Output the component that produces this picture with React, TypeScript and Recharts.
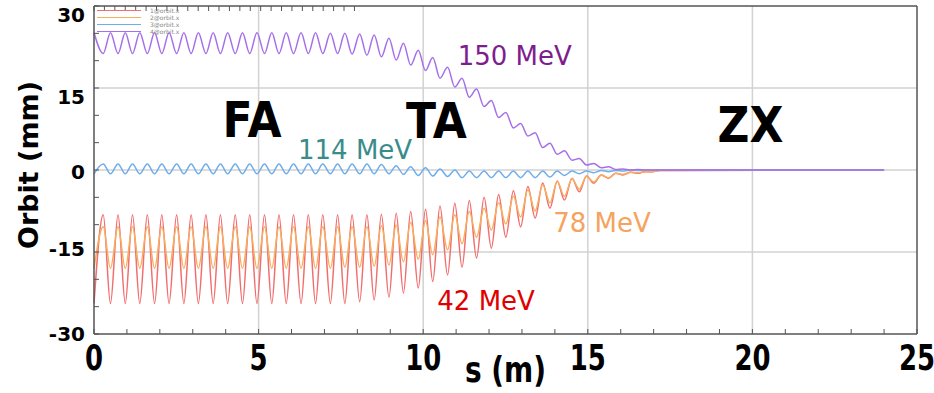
import React from 'react';
import { LineChart, Line, XAxis, YAxis, ReferenceLine, ReferenceDot, Legend } from 'recharts';

// half-period sample positions along s (m): extrema of the orbit oscillations
const sPos = [
  0, 0.28, 0.5, 0.73, 0.95, 1.17, 1.39, 1.62, 1.84, 2.06,
  2.28, 2.51, 2.73, 2.95, 3.17, 3.4, 3.62, 3.84, 4.06, 4.29,
  4.51, 4.73, 4.95, 5.18, 5.4, 5.62, 5.84, 6.06, 6.29, 6.51,
  6.73, 6.95, 7.18, 7.4, 7.62, 7.84, 8.07, 8.29, 8.51, 8.73,
  8.96, 9.18, 9.4, 9.62, 9.85, 10.07, 10.29, 10.51, 10.74, 10.96,
  11.18, 11.4, 11.62, 11.85, 12.07, 12.29, 12.51, 12.74, 12.96, 13.18,
  13.4, 13.63, 13.85, 14.07, 14.29, 14.52, 14.74, 14.96, 15.18, 15.41,
  15.63, 15.85, 16.07, 16.3, 16.52, 16.74, 16.96, 17.19, 17.41, 24,
];

// 42 MeV
const orbit1 = [
  -24.4, -8.2, -24.4, -8.2, -24.4, -8.2, -24.4, -8.2, -24.4, -8.2,
  -24.4, -8.2, -24.4, -8.2, -24.4, -8.2, -24.4, -8.2, -24.4, -8.2,
  -24.4, -8.2, -24.4, -8.2, -24.4, -8.2, -24.4, -8.2, -24.4, -8.2,
  -24.4, -8.2, -24.4, -8.2, -24.4, -8.2, -24.1, -8.2, -23.8, -8.1,
  -23.3, -7.9, -22.5, -7.6, -21.6, -7.2, -20.4, -6.6, -19.2, -6.1,
  -17.8, -5.6, -16.1, -5.0, -14.3, -4.5, -12.3, -3.8, -10.4, -3.0,
  -8.8, -2.4, -7.0, -2.0, -5.5, -1.5, -4.0, -1.1, -2.4, -0.9,
  -1.5, -0.6, -0.9, -0.4, -0.6, -0.3, -0.3, -0.1, -0.1, 0,
];

// 78 MeV
const orbit2 = [
  -18.0, -10.4, -18.0, -10.4, -18.0, -10.4, -18.0, -10.4, -18.0, -10.4,
  -18.0, -10.4, -18.0, -10.4, -18.0, -10.4, -18.0, -10.4, -18.0, -10.4,
  -18.0, -10.4, -18.0, -10.4, -18.0, -10.4, -18.0, -10.4, -18.0, -10.4,
  -18.0, -10.4, -18.0, -10.4, -17.8, -10.4, -17.8, -10.4, -17.6, -10.2,
  -17.4, -10.1, -16.8, -9.6, -16.3, -9.3, -15.5, -8.6, -14.6, -8.2,
  -13.5, -7.6, -12.3, -7.0, -11.0, -6.0, -9.9, -4.8, -8.6, -3.6,
  -7.5, -2.7, -6.0, -2.1, -4.8, -1.6, -3.5, -1.2, -2.2, -0.9,
  -1.4, -0.6, -0.8, -0.4, -0.5, -0.3, -0.3, -0.1, -0.1, 0,
];

// 114 MeV
const orbit3 = [
  -0.7, 1.1, -0.7, 1.1, -0.7, 1.1, -0.7, 1.1, -0.7, 1.1,
  -0.7, 1.1, -0.7, 1.1, -0.7, 1.1, -0.7, 1.1, -0.7, 1.1,
  -0.7, 1.1, -0.7, 1.1, -0.7, 1.1, -0.7, 1.1, -0.7, 1.1,
  -0.7, 1.1, -0.7, 1.1, -0.7, 1.1, -0.7, 1.1, -0.7, 1.0,
  -0.7, 0.8, -0.8, 0.6, -1.0, 0.4, -1.1, 0.2, -1.2, 0.0,
  -1.4, -0.2, -1.4, -0.2, -1.4, -0.2, -1.4, -0.2, -1.4, -0.2,
  -1.4, -0.2, -1.3, -0.2, -1.0, -0.2, -0.7, -0.2, -0.5, -0.1,
  -0.3, -0.1, -0.2, 0, -0.1, 0, 0, 0, 0, 0,
];

// 150 MeV
const orbit4 = [
  25.1, 21.3, 25.1, 21.3, 25.1, 21.3, 25.1, 21.3, 25.1, 21.3,
  25.1, 21.3, 25.1, 21.3, 25.1, 21.3, 25.1, 21.3, 25.1, 21.3,
  25.1, 21.3, 25.1, 21.3, 25.1, 21.3, 25.1, 21.3, 25.1, 21.3,
  25.1, 21.3, 25.0, 21.3, 25.0, 21.2, 24.9, 21.0, 24.7, 20.7,
  24.1, 20.1, 23.2, 19.2, 21.9, 18.2, 20.6, 16.8, 18.8, 15.2,
  16.8, 13.3, 14.8, 11.6, 12.7, 9.6, 10.5, 7.7, 8.5, 6.2,
  6.8, 4.1, 4.9, 2.9, 3.5, 1.8, 2.1, 0.9, 1.2, 0.4,
  0.6, 0.1, 0.2, 0, 0.1, 0, 0, 0, 0, 0,
];

const sTicks = [0, 1, 2, 3, 4, 5, 6, 7, 8, 9, 10, 11, 12, 13, 14, 15, 16, 17, 18, 19, 20, 21, 22, 23, 24, 25];
const orbitTicks = [-30, -25, -20, -15, -10, -5, 0, 5, 10, 15, 20, 25, 30];
const sGrid = [5, 10, 15, 20];
const orbitGrid = [15, 0, -15];

const series = [
  { key: 'o1', name: '1@orbit.x', color: '#F26D6D' },
  { key: 'o2', name: '2@orbit.x', color: '#F7AE5E' },
  { key: 'o3', name: '3@orbit.x', color: '#6FAEEA' },
  { key: 'o4', name: '4@orbit.x', color: '#A66FEA' },
];

const notes = [
  { text: 'FA', s: 4.8, orbit: 9.3, color: '#000', size: 50, bold: true },
  { text: 'TA', s: 10.4, orbit: 9.1, color: '#000', size: 50, bold: true },
  { text: 'ZX', s: 19.94, orbit: 8.4, color: '#000', size: 50, bold: true },
  { text: '150 MeV', s: 12.78, orbit: 20.8, color: '#7E1E8E', size: 26, bold: false },
  { text: '114 MeV', s: 7.93, orbit: 3.6, color: '#3A8C8A', size: 26, bold: false },
  { text: '78 MeV', s: 15.43, orbit: -9.7, color: '#F4A460', size: 26, bold: false },
  { text: '42 MeV', s: 11.91, orbit: -23.9, color: '#E00000', size: 26, bold: false },
];

const data = sPos.map((s, i) => ({
  s,
  o1: orbit1[i],
  o2: orbit2[i],
  o3: orbit3[i],
  o4: orbit4[i],
}));

const AXIS = '#555';
const FONT = 'DejaVu Sans, Verdana, sans-serif';

// y tick labels in the figure sit a little off their ticks
const yLabelShift: Record<number, number> = { 30: 9, 15: 9, 0: 2, '-15': -3, '-30': 0 };

const BottomTick = (props: any) => {
  const { x, y, payload } = props;
  const v = payload.value;
  return (
    <g>
      <line x1={x} y1={y} x2={x} y2={y - 5} stroke={AXIS} />
      {v % 5 === 0 && (
        <text
          transform={`translate(${x},${y + 36}) scale(0.72,1)`}
          textAnchor="middle"
          fontFamily={FONT}
          fontWeight="bold"
          fontSize={36}
          fill="#000"
        >
          {v}
        </text>
      )}
    </g>
  );
};

const TopTick = (props: any) => {
  const { x, y } = props;
  return <line x1={x} y1={y} x2={x} y2={y + 5} stroke={AXIS} />;
};

const LeftTick = (props: any) => {
  const { x, y, payload } = props;
  const v = payload.value;
  return (
    <g>
      <line x1={x} y1={y} x2={x + 5} y2={y} stroke={AXIS} />
      {v % 15 === 0 && (
        <text
          x={x - 9}
          y={y + (yLabelShift[v] || 0)}
          textAnchor="end"
          dominantBaseline="central"
          fontFamily={FONT}
          fontWeight="bold"
          fontSize={20}
          fill="#000"
        >
          {v}
        </text>
      )}
    </g>
  );
};

const RightTick = (props: any) => {
  const { x, y } = props;
  return <line x1={x} y1={y} x2={x - 5} y2={y} stroke={AXIS} />;
};

const renderLegend = (props: any) => (
  <div style={{ display: 'flex', flexDirection: 'column' }}>
    {(props.payload || []).map((p: any) => (
      <div key={p.value} style={{ display: 'flex', alignItems: 'center', height: 7 }}>
        <span style={{ width: 44, height: 0, borderTop: `1.5px solid ${p.color}` }} />
        <span style={{ marginLeft: 9, fontSize: 6, lineHeight: '7px', color: '#888', fontFamily: FONT }}>
          {p.value}
        </span>
      </div>
    ))}
  </div>
);

const NoteLabel = ({ viewBox, note }: any) => {
  const cx = viewBox.x + (viewBox.width || 0) / 2;
  const cy = viewBox.y + (viewBox.height || 0) / 2;
  return (
    <text
      transform={`translate(${cx},${cy}) scale(${note.bold ? 0.88 : 1},1)`}
      textAnchor="middle"
      dominantBaseline="central"
      fontFamily={FONT}
      fontWeight={note.bold ? 'bold' : 'normal'}
      fontSize={note.size}
      fill={note.color}
    >
      {note.text}
    </text>
  );
};

export default function App() {
  return (
    <div style={{ position: 'absolute', left: 0, top: 0, background: '#fff' }}>
      <LineChart width={934} height={393} data={data} margin={{ top: 0, right: 0, bottom: 0, left: 0 }}>
        <XAxis
          dataKey="s"
          type="number"
          domain={[0, 25]}
          ticks={sTicks}
          interval={0}
          height={59}
          tickSize={0}
          tickMargin={0}
          tickLine={false}
          axisLine={{ stroke: AXIS, strokeWidth: 1.5 }}
          tick={<BottomTick />}
          label={{
            content: (p: any) => (
              <text
                transform={`translate(${p.viewBox.x + p.viewBox.width / 2},${p.viewBox.y + 48}) scale(0.8,1)`}
                textAnchor="middle"
                fontFamily={FONT}
                fontWeight="bold"
                fontSize={35}
                fill="#000"
              >
                s (m)
              </text>
            ),
          }}
        />
        <XAxis
          xAxisId="top"
          orientation="top"
          type="number"
          domain={[0, 25]}
          ticks={sTicks}
          interval={0}
          height={6}
          tickSize={0}
          tickMargin={0}
          tickLine={false}
          axisLine={{ stroke: AXIS, strokeWidth: 1.5 }}
          tick={<TopTick />}
        />
        <YAxis
          type="number"
          domain={[-30, 30]}
          ticks={orbitTicks}
          interval={0}
          width={94}
          tickSize={0}
          tickMargin={0}
          tickLine={false}
          axisLine={{ stroke: AXIS, strokeWidth: 1.5 }}
          tick={<LeftTick />}
          label={{
            content: (p: any) => (
              <text
                transform={`translate(${p.viewBox.x + 28},${p.viewBox.y + p.viewBox.height / 2 - 5}) rotate(-90)`}
                textAnchor="middle"
                dominantBaseline="central"
                fontFamily={FONT}
                fontWeight="bold"
                fontSize={27}
                fill="#000"
              >
                Orbit (mm)
              </text>
            ),
          }}
        />
        <YAxis
          yAxisId="right"
          orientation="right"
          type="number"
          domain={[-30, 30]}
          ticks={orbitTicks}
          interval={0}
          width={17}
          tickSize={0}
          tickMargin={0}
          tickLine={false}
          axisLine={{ stroke: AXIS, strokeWidth: 1.5 }}
          tick={<RightTick />}
        />
        {sGrid.map((s) => (
          <ReferenceLine key={`gx${s}`} x={s} stroke="#d2d2d2" strokeWidth={1.5} />
        ))}
        {orbitGrid.map((v) => (
          <ReferenceLine key={`gy${v}`} y={v} stroke="#d2d2d2" strokeWidth={1.5} />
        ))}
        <Legend
          layout="vertical"
          align="center"
          verticalAlign="middle"
          wrapperStyle={{ top: 7, left: 97, width: 120 }}
          content={renderLegend}
        />
        {series.map((sr) => (
          <Line
            key={sr.key}
            type="monotone"
            dataKey={sr.key}
            name={sr.name}
            stroke={sr.color}
            strokeWidth={1.5}
            dot={false}
            activeDot={false}
            isAnimationActive={false}
          />
        ))}
        {notes.map((n) => (
          <ReferenceDot
            key={n.text}
            x={n.s}
            y={n.orbit}
            r={0}
            fill="none"
            stroke="none"
            label={{ content: (p: any) => <NoteLabel viewBox={p.viewBox} note={n} /> }}
          />
        ))}
      </LineChart>
    </div>
  );
}
